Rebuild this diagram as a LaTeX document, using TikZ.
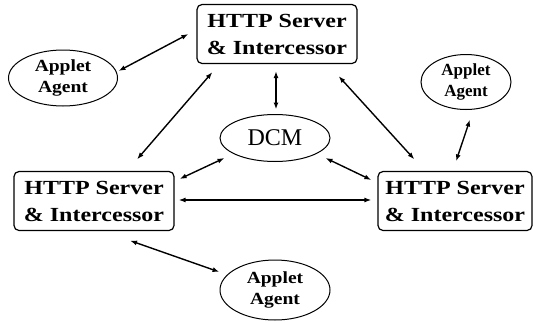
\documentclass[tikz,border=0pt]{standalone}
\usepackage{fontspec}
\setmainfont{Liberation Serif}
\newfontfamily\serverfont[FakeStretch=1.2]{Liberation Serif}
\newfontfamily\agentwide[FakeStretch=1.15]{Liberation Serif}
\usetikzlibrary{shapes.geometric,arrows.meta}

\tikzset{
  server/.style={draw, line width=1.2pt, rounded corners=5pt, inner sep=0pt,
    minimum width=#1, minimum height=59pt, align=center,
    font=\serverfont\bfseries\fontsize{20}{27}\selectfont},
  server/.default=160pt,
  agent/.style={draw, ellipse, line width=1pt, inner sep=0pt, align=center,
    font=\agentwide\bfseries\fontsize{17}{21}\selectfont},
  agentnarrow/.style={agent, font=\bfseries\fontsize{17}{21}\selectfont},
  dcm/.style={draw, ellipse, line width=1pt, inner sep=0pt,
    minimum width=110pt, minimum height=47pt,
    font=\fontsize{24}{26}\selectfont},
  link/.style={line width=1.4pt, {Latex[length=7pt,width=5pt]}-{Latex[length=7pt,width=5pt]}}
}

\begin{document}
\begin{tikzpicture}[x=1pt, y=-1pt]
\useasboundingbox (0,0) rectangle (533,322);

% servers
\node[server] (top) at (277,34) {HTTP Server\\\& Intercessor};
\node[server] (lft) at (94,201) {HTTP Server\\\& Intercessor};
\node[server=154pt] (rgt) at (455,201) {HTTP Server\\\& Intercessor};

% applet agents and the DCM
\node[agent, minimum width=109pt, minimum height=56pt] (a1) at (63,78) {Applet\\Agent};
\node[agentnarrow, minimum width=90pt, minimum height=55pt] (a2) at (466,82) {Applet\\Agent};
\node[agent, minimum width=110pt, minimum height=60pt] (a3) at (275,290) {Applet\\Agent};
\node[dcm] (dcm) at (275,138) {DCM};

% connections
\draw[link] ([shift={(0.5,-7)}]a1.east) -- ([shift={(-8,0)}]top.west);
\draw[link] ([shift={(16,8)}]top.south west) -- ([shift={(43,-11.5)}]lft.north);
\draw[link] ([shift={(-1,7)}]top.south) -- ([shift={(1,-4.5)}]dcm.north);
\draw[link] ([shift={(-19,12)}]top.south east) -- ([shift={(37,-11.5)}]rgt.north west);
\draw[link] ([shift={(4,9.5)}]a2.south) -- ([shift={(1,-9.5)}]rgt.north);
\draw[link] ([shift={(5,20)}]dcm.west) -- ([shift={(5,-22)}]lft.east);
\draw[link] ([shift={(-5,20)}]dcm.east) -- ([shift={(-6,-21)}]rgt.west);
\draw[link] ([shift={(4,-1)}]lft.east) -- ([shift={(-6,-1)}]rgt.west);
\draw[link] ([shift={(36,9.5)}]lft.south) -- ([shift={(0,-18)}]a3.west);
\end{tikzpicture}
\end{document}
